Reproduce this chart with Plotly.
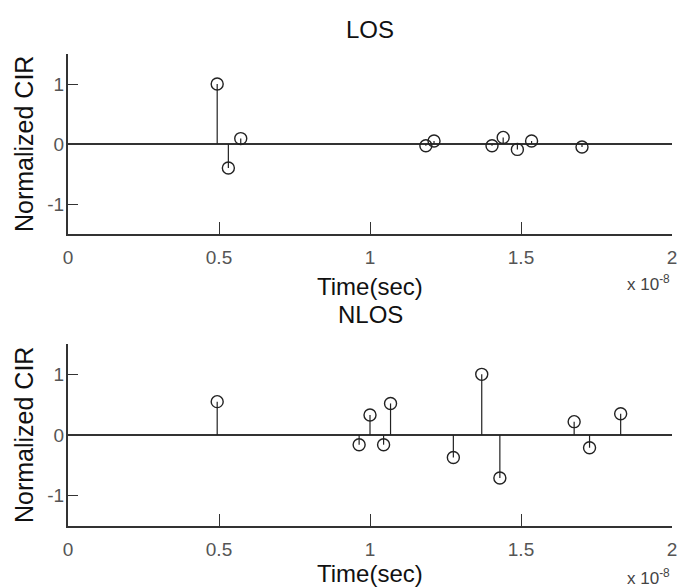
import plotly.graph_objects as go

# Time values in units of 1e-8 s
los_t = [0.494, 0.531, 0.572, 1.185, 1.212, 1.404, 1.441, 1.488, 1.535, 1.702]
los_v = [1.0, -0.40, 0.09, -0.03, 0.05, -0.03, 0.11, -0.09, 0.05, -0.05]

nlos_t = [0.494, 0.964, 1.0, 1.045, 1.068, 1.276, 1.370, 1.43, 1.676, 1.727, 1.83]
nlos_v = [0.55, -0.16, 0.33, -0.16, 0.52, -0.37, 1.0, -0.71, 0.22, -0.21, 0.35]

x_ticks = [0, 0.5, 1, 1.5, 2]
x_tick_labels = ["0", "0.5", "1", "1.5", "2"]
y_ticks = [-1, 0, 1]
y_tick_labels = ["-1", "0", "1"]

W, H = 679, 588
fig = go.Figure()

def stems(t, v):
    xs, ys = [], []
    for a, b in zip(t, v):
        xs += [a, a, None]
        ys += [0, b, None]
    return xs, ys

INK = "#222"
for t, v, xa, ya in [(los_t, los_v, "x", "y"), (nlos_t, nlos_v, "x2", "y2")]:
    sx, sy = stems(t, v)
    fig.add_trace(go.Scatter(x=sx, y=sy, mode="lines", xaxis=xa, yaxis=ya,
                             line=dict(color=INK, width=1.2), showlegend=False, hoverinfo="skip"))
    fig.add_trace(go.Scatter(x=t, y=v, mode="markers", xaxis=xa, yaxis=ya,
                             marker=dict(symbol="circle-open", size=12, color=INK,
                                         line=dict(width=1.4, color=INK)),
                             showlegend=False))

fnt = "Liberation Sans, Arial"
font_tick = dict(family=fnt, size=19, color="#555")
common_x = dict(range=[0, 2], tickvals=x_ticks, ticktext=x_tick_labels, ticks="inside",
                ticklen=12, tickwidth=1.4, tickcolor="#333", showline=True, linecolor="#333",
                linewidth=2, showgrid=False, zeroline=False, tickfont=font_tick, mirror=False,
                ticklabelstandoff=5)
common_y = dict(range=[-1.5, 1.5], tickvals=y_ticks, ticktext=y_tick_labels, ticks="inside",
                ticklen=10, tickwidth=1.4, tickcolor="#333", showline=True, linecolor="#333",
                linewidth=2, showgrid=False, zeroline=True, zerolinecolor="#333",
                zerolinewidth=2, tickfont=font_tick, mirror=False, ticklabelstandoff=-2)

def py(yp):
    return 1 - yp / H

def px(xp):
    return (xp - 68) / 604

top_dom = [py(234), py(54)]
bot_dom = [py(526), py(344)]

fig.update_layout(
    width=W, height=H, margin=dict(l=68, r=W - 672, t=0, b=0),
    paper_bgcolor="white", plot_bgcolor="white",
    xaxis=dict(common_x, domain=[0, 1], anchor="y"),
    yaxis=dict(common_y, domain=top_dom, anchor="x"),
    xaxis2=dict(common_x, domain=[0, 1], anchor="y2"),
    yaxis2=dict(common_y, domain=bot_dom, anchor="x2"),
)

ann = []
for title, ty, xlab_y, exp_y, ylab_y in [("LOS", 29, 286, 283, 144), ("NLOS", 314, 573, 577, 435)]:
    ann.append(dict(text=title, x=px(370), y=py(ty), xref="paper", yref="paper",
                    xanchor="center", yanchor="middle",
                    showarrow=False, font=dict(family=fnt, size=24, color="#111")))
    ann.append(dict(text="Time(sec)", x=px(370), y=py(xlab_y), xref="paper", yref="paper",
                    xanchor="center", yanchor="middle",
                    showarrow=False, font=dict(family=fnt, size=24, color="#111")))
    ann.append(dict(text="x 10<sup>-8</sup>", x=px(672), y=py(exp_y), xref="paper", yref="paper",
                    xanchor="right", yanchor="middle",
                    showarrow=False, font=dict(family=fnt, size=17, color="#444")))
    ann.append(dict(text="Normalized CIR", x=px(24), y=py(ylab_y), xref="paper", yref="paper",
                    xanchor="center", yanchor="middle",
                    showarrow=False, textangle=-90, font=dict(family=fnt, size=25, color="#111")))
fig.update_layout(annotations=ann)

fig.write_html(
    "out.html",
    config={"displayModeBar": False},
    post_script="document.body.style.margin='0';document.body.style.overflow='hidden';",
)
